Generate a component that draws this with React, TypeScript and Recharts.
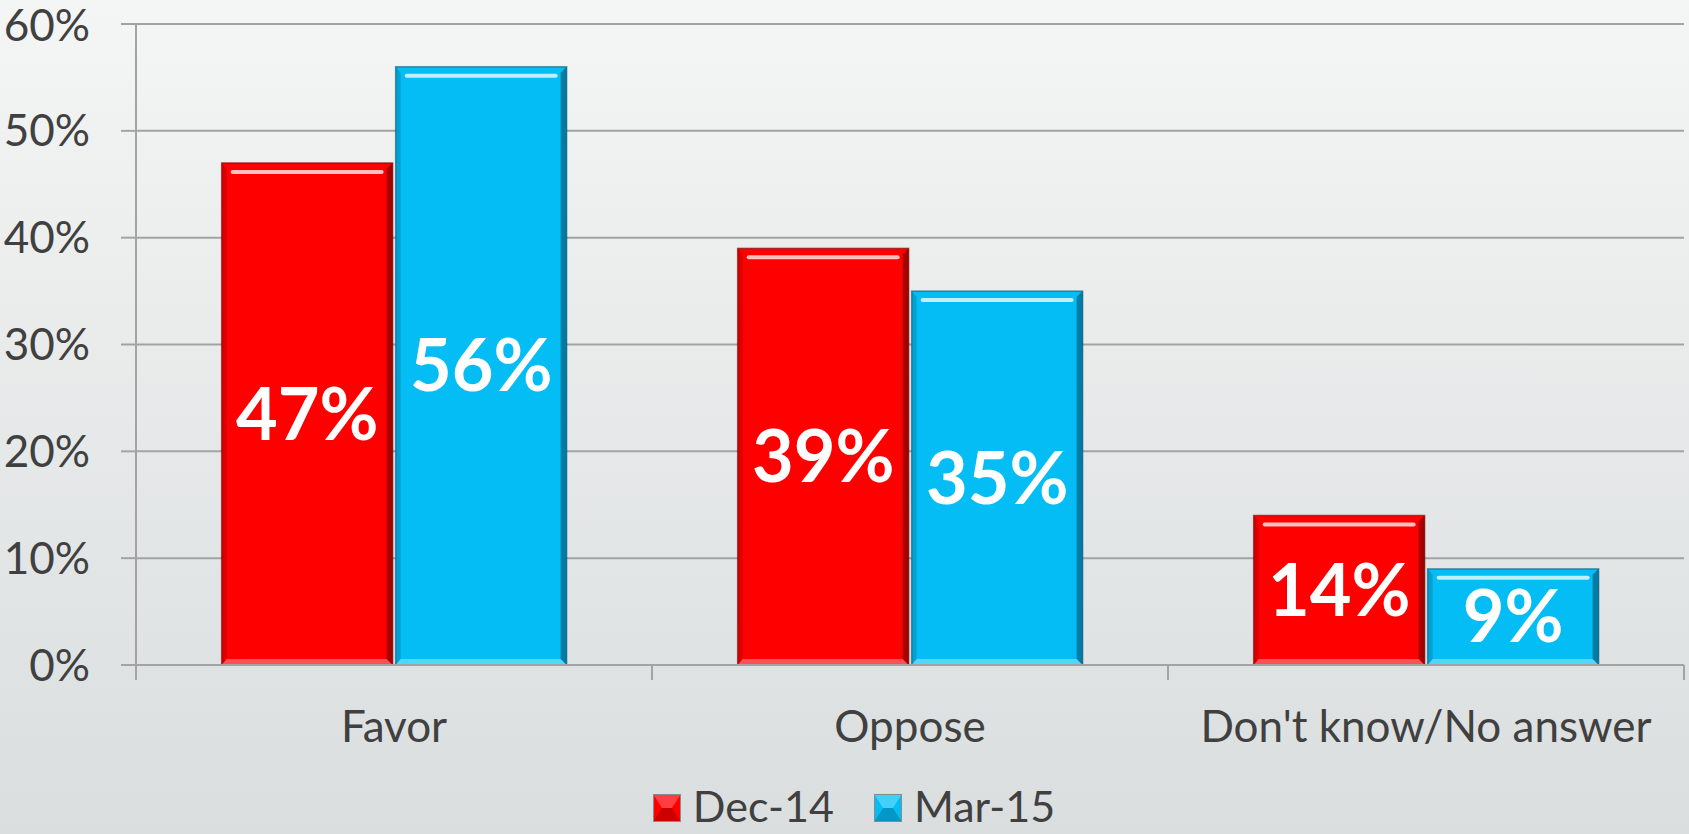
import { BarChart, Bar, XAxis, YAxis, CartesianGrid, Legend, LabelList } from 'recharts';

const categories = ['Favor', 'Oppose', "Don't know/No answer"];
const dec14 = [47, 39, 14];
const mar15 = [56, 35, 9];
const yTicks = [0, 10, 20, 30, 40, 50, 60];

const seriesInfo = [
  { key: 'dec14', name: 'Dec-14', fill: '#ff0000', dark: '#6a0000', light: '#ffb4b4' },
  { key: 'mar15', name: 'Mar-15', fill: '#04bdf5', dark: '#00506e', light: '#b8f2ff' },
];

const data = categories.map((c, i) => ({ name: c, dec14: dec14[i], mar15: mar15[i] }));

const FONT = 'Lato, "Open Sans", sans-serif';
const TEXT = '#404040';
const GRID = '#a3a3a3';

function makeBevel(fill: string, dark: string, light: string) {
  return (props: any) => {
    const { x, y, width: w, height: h } = props;
    if (!w || !h) return <g />;
    const b = 6;
    return (
      <g>
        <rect x={x} y={y} width={w} height={h} fill={fill} />
        <polygon points={`${x},${y} ${x + b - 1},${y + b} ${x + b - 1},${y + h - b} ${x},${y + h}`} fill={dark} opacity={0.25} />
        <polygon points={`${x + w},${y} ${x + w},${y + h} ${x + w - b},${y + h - b} ${x + w - b},${y + b}`} fill={dark} opacity={0.6} />
        <polygon points={`${x + b - 1},${y + h - b} ${x + w - b},${y + h - b} ${x + w},${y + h} ${x},${y + h}`} fill={light} opacity={0.45} />
        <rect x={x + 9} y={y + 7} width={Math.max(0, w - 18)} height={4} rx={2} fill="#ffffff" opacity={0.75} />
        <rect x={x} y={y} width={w} height={h} fill="none" stroke={dark} strokeOpacity={0.55} strokeWidth={1.5} />
      </g>
    );
  };
}

function CategoryTick(props: any) {
  const { x, y, payload, index } = props;
  const half = payload?.offset ?? 258;
  return (
    <g>
      <line x1={x - half} y1={y} x2={x - half} y2={y + 15} stroke={GRID} strokeWidth={2} />
      {index === categories.length - 1 && (
        <line x1={x + half} y1={y} x2={x + half} y2={y + 15} stroke={GRID} strokeWidth={2} />
      )}
      <text x={x} y={y + 77} textAnchor="middle" fill={TEXT} fontSize={44} fontFamily={FONT}>
        {payload.value}
      </text>
    </g>
  );
}

function LegendSwatch({ fill, dark, light }: { fill: string; dark: string; light: string }) {
  return (
    <svg width={28} height={28} style={{ display: 'block' }}>
      <rect x={0} y={0} width={28} height={28} fill={fill} />
      <polygon points="0,0 28,0 19,14 9,14" fill={light} opacity={0.35} />
      <polygon points="0,28 28,28 19,14 9,14" fill={dark} opacity={0.35} />
      <rect x={0.5} y={0.5} width={27} height={27} fill="none" stroke="#8a8a8a" strokeWidth={1} />
    </svg>
  );
}

function LegendContent() {
  return (
    <div
      style={{
        display: 'flex',
        justifyContent: 'center',
        alignItems: 'flex-end',
        height: 69,
        paddingLeft: 24,
        boxSizing: 'border-box',
        paddingBottom: 7,
        fontFamily: FONT,
        fontSize: 43,
        lineHeight: '43px',
        color: TEXT,
      }}
    >
      {seriesInfo.map((s, i) => (
        <div key={s.key} style={{ display: 'flex', alignItems: 'flex-end', marginLeft: i ? 40 : 0 }}>
          <div style={{ marginBottom: 5, marginRight: 12 }}>
            <LegendSwatch fill={s.fill} dark={s.dark} light={s.light} />
          </div>
          <span>{s.name}</span>
        </div>
      ))}
    </div>
  );
}

export default function App() {
  return (
    <div
      style={{
        position: 'absolute',
        left: 0,
        top: 0,
        width: 1689,
        height: 834,
        background: 'linear-gradient(#f4f5f5, #dadede)',
      }}
    >
      <BarChart
        width={1689}
        height={834}
        data={data}
        margin={{ top: 24, right: 5, left: 0, bottom: 0 }}
        barCategoryGap="16.6%"
        barGap={3}
      >
        <CartesianGrid vertical={false} stroke={GRID} strokeWidth={2} />
        <XAxis
          dataKey="name"
          height={100}
          tickSize={0}
          tickMargin={0}
          tickLine={false}
          axisLine={{ stroke: GRID, strokeWidth: 2 }}
          tick={<CategoryTick />}
          interval={0}
        />
        <YAxis
          width={136}
          domain={[0, 60]}
          ticks={yTicks}
          tickFormatter={(v) => `${v}%`}
          tickSize={15}
          tickMargin={31}
          tickLine={{ stroke: GRID, strokeWidth: 2 }}
          axisLine={{ stroke: GRID, strokeWidth: 2 }}
          tick={{ fill: TEXT, fontSize: 44, fontFamily: FONT }}
        />
        <Legend verticalAlign="bottom" height={69} content={<LegendContent />} />
        {seriesInfo.map((s) => (
          <Bar
            key={s.key}
            dataKey={s.key}
            name={s.name}
            fill={s.fill}
            isAnimationActive={false}
            shape={makeBevel(s.fill, s.dark, s.light)}
          >
            <LabelList
              dataKey={s.key}
              position="center"
              formatter={(v: any) => `${v}%`}
              fill="#ffffff"
              fontSize={72}
              fontWeight="bold"
              fontFamily={FONT}
            />
          </Bar>
        ))}
      </BarChart>
    </div>
  );
}
